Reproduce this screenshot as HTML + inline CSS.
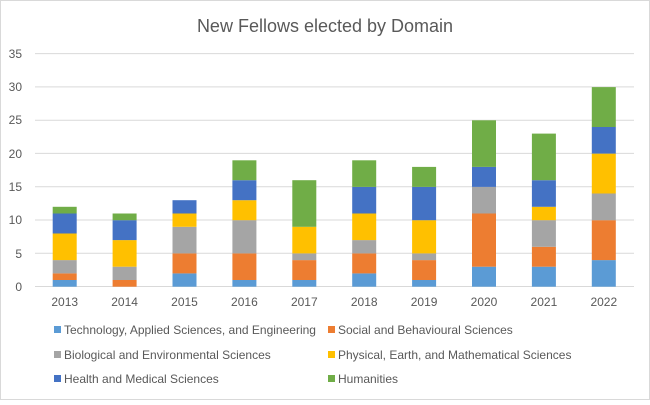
<!DOCTYPE html>
<html><head><style>body{margin:0;background:#fff}</style></head><body>
<svg width="650" height="400" xmlns="http://www.w3.org/2000/svg" font-family="Liberation Sans, sans-serif">
<rect x="0.5" y="0.5" width="649" height="399" fill="#fff" stroke="#d9d9d9"/>
<text x="325" y="32" text-anchor="middle" font-size="18" fill="#595959">New Fellows elected by Domain</text>
<g stroke="#d9d9d9" stroke-width="1">
<line x1="35" x2="634" y1="286.5" y2="286.5"/><line x1="35" x2="634" y1="253.3" y2="253.3"/>
<line x1="35" x2="634" y1="220" y2="220"/><line x1="35" x2="634" y1="186.7" y2="186.7"/>
<line x1="35" x2="634" y1="153.4" y2="153.4"/><line x1="35" x2="634" y1="120.2" y2="120.2"/>
<line x1="35" x2="634" y1="86.9" y2="86.9"/><line x1="35" x2="634" y1="53.6" y2="53.6"/>
</g>
<g font-size="12" fill="#595959" text-anchor="end">
<text x="22" y="291">0</text><text x="22" y="258">5</text><text x="22" y="224">10</text><text x="22" y="191">15</text>
<text x="22" y="158">20</text><text x="22" y="124">25</text><text x="22" y="91">30</text><text x="22" y="58">35</text>
</g>
<g>
<!-- 2013 -->
<rect x="52.7" y="280.0" width="24" height="6.7" fill="#5b9bd5"/>
<rect x="52.7" y="273.4" width="24" height="6.6" fill="#ed7d31"/>
<rect x="52.7" y="260.1" width="24" height="13.3" fill="#a5a5a5"/>
<rect x="52.7" y="233.5" width="24" height="26.6" fill="#ffc000"/>
<rect x="52.7" y="213.5" width="24" height="20" fill="#4472c4"/>
<rect x="52.7" y="206.8" width="24" height="6.7" fill="#70ad47"/>
<!-- 2014 -->
<rect x="112.6" y="280.0" width="24" height="6.7" fill="#ed7d31"/>
<rect x="112.6" y="266.7" width="24" height="13.3" fill="#a5a5a5"/>
<rect x="112.6" y="240.1" width="24" height="26.6" fill="#ffc000"/>
<rect x="112.6" y="220.2" width="24" height="19.9" fill="#4472c4"/>
<rect x="112.6" y="213.5" width="24" height="6.7" fill="#70ad47"/>
<!-- 2015 -->
<rect x="172.5" y="273.4" width="24" height="13.3" fill="#5b9bd5"/>
<rect x="172.5" y="253.4" width="24" height="20" fill="#ed7d31"/>
<rect x="172.5" y="226.8" width="24" height="26.6" fill="#a5a5a5"/>
<rect x="172.5" y="213.5" width="24" height="13.3" fill="#ffc000"/>
<rect x="172.5" y="200.2" width="24" height="13.3" fill="#4472c4"/>
<!-- 2016 -->
<rect x="232.4" y="280.0" width="24" height="6.7" fill="#5b9bd5"/>
<rect x="232.4" y="253.4" width="24" height="26.6" fill="#ed7d31"/>
<rect x="232.4" y="220.2" width="24" height="33.2" fill="#a5a5a5"/>
<rect x="232.4" y="200.2" width="24" height="20" fill="#ffc000"/>
<rect x="232.4" y="180.2" width="24" height="20" fill="#4472c4"/>
<rect x="232.4" y="160.3" width="24" height="19.9" fill="#70ad47"/>
<!-- 2017 -->
<rect x="292.3" y="280.0" width="24" height="6.7" fill="#5b9bd5"/>
<rect x="292.3" y="260.1" width="24" height="19.9" fill="#ed7d31"/>
<rect x="292.3" y="253.4" width="24" height="6.7" fill="#a5a5a5"/>
<rect x="292.3" y="226.8" width="24" height="26.6" fill="#ffc000"/>
<rect x="292.3" y="180.2" width="24" height="46.6" fill="#70ad47"/>
<!-- 2018 -->
<rect x="352.2" y="273.4" width="24" height="13.3" fill="#5b9bd5"/>
<rect x="352.2" y="253.4" width="24" height="20" fill="#ed7d31"/>
<rect x="352.2" y="240.1" width="24" height="13.3" fill="#a5a5a5"/>
<rect x="352.2" y="213.5" width="24" height="26.6" fill="#ffc000"/>
<rect x="352.2" y="186.9" width="24" height="26.6" fill="#4472c4"/>
<rect x="352.2" y="160.3" width="24" height="26.6" fill="#70ad47"/>
<!-- 2019 -->
<rect x="412.1" y="280.0" width="24" height="6.7" fill="#5b9bd5"/>
<rect x="412.1" y="260.1" width="24" height="19.9" fill="#ed7d31"/>
<rect x="412.1" y="253.4" width="24" height="6.7" fill="#a5a5a5"/>
<rect x="412.1" y="220.2" width="24" height="33.2" fill="#ffc000"/>
<rect x="412.1" y="186.9" width="24" height="33.3" fill="#4472c4"/>
<rect x="412.1" y="166.9" width="24" height="20" fill="#70ad47"/>
<!-- 2020 -->
<rect x="472.0" y="266.7" width="24" height="20" fill="#5b9bd5"/>
<rect x="472.0" y="213.5" width="24" height="53.2" fill="#ed7d31"/>
<rect x="472.0" y="186.9" width="24" height="26.6" fill="#a5a5a5"/>
<rect x="472.0" y="166.9" width="24" height="20" fill="#4472c4"/>
<rect x="472.0" y="120.3" width="24" height="46.6" fill="#70ad47"/>
<!-- 2021 -->
<rect x="531.9" y="266.7" width="24" height="20" fill="#5b9bd5"/>
<rect x="531.9" y="246.8" width="24" height="19.9" fill="#ed7d31"/>
<rect x="531.9" y="220.2" width="24" height="26.6" fill="#a5a5a5"/>
<rect x="531.9" y="206.8" width="24" height="13.4" fill="#ffc000"/>
<rect x="531.9" y="180.2" width="24" height="26.6" fill="#4472c4"/>
<rect x="531.9" y="133.6" width="24" height="46.6" fill="#70ad47"/>
<!-- 2022 -->
<rect x="591.8" y="260.1" width="24" height="26.6" fill="#5b9bd5"/>
<rect x="591.8" y="220.2" width="24" height="39.9" fill="#ed7d31"/>
<rect x="591.8" y="193.5" width="24" height="26.7" fill="#a5a5a5"/>
<rect x="591.8" y="153.6" width="24" height="39.9" fill="#ffc000"/>
<rect x="591.8" y="127.0" width="24" height="26.6" fill="#4472c4"/>
<rect x="591.8" y="87.1" width="24" height="39.9" fill="#70ad47"/>
</g>
<g font-size="12" fill="#595959" text-anchor="middle">
<text x="64.7" y="306">2013</text><text x="124.6" y="306">2014</text><text x="184.5" y="306">2015</text>
<text x="244.4" y="306">2016</text><text x="304.3" y="306">2017</text><text x="364.2" y="306">2018</text>
<text x="424.1" y="306">2019</text><text x="484.0" y="306">2020</text><text x="543.9" y="306">2021</text>
<text x="603.8" y="306">2022</text>
</g>
<g font-size="12" fill="#595959">
<rect x="54" y="326" width="7" height="7" fill="#5b9bd5"/><text x="64" y="334">Technology, Applied Sciences, and Engineering</text>
<rect x="328" y="326" width="7" height="7" fill="#ed7d31"/><text x="338" y="334">Social and Behavioural Sciences</text>
<rect x="54" y="351" width="7" height="7" fill="#a5a5a5"/><text x="64" y="359">Biological and Environmental Sciences</text>
<rect x="328" y="351" width="7" height="7" fill="#ffc000"/><text x="338" y="359">Physical, Earth, and Mathematical Sciences</text>
<rect x="54" y="375" width="7" height="7" fill="#4472c4"/><text x="64" y="383">Health and Medical Sciences</text>
<rect x="328" y="375" width="7" height="7" fill="#70ad47"/><text x="338" y="383">Humanities</text>
</g>
</svg>
</body></html>
